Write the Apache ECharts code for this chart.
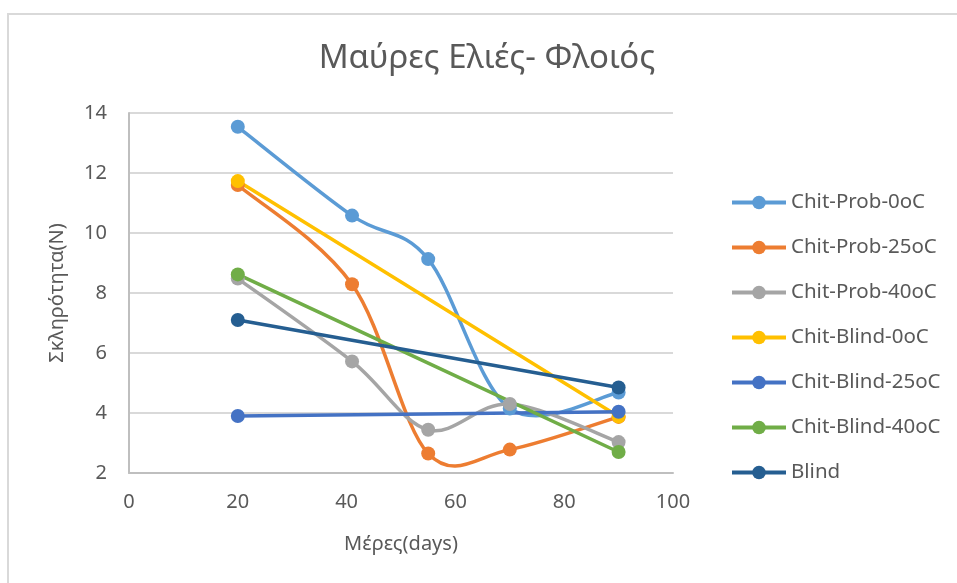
<!DOCTYPE html>
<html>
<head>
<meta charset="utf-8">
<script src="https://cdn.jsdelivr.net/npm/echarts@6/dist/echarts.min.js"></script>
<style>
  html, body { margin: 0; padding: 0; background: #ffffff; }
  #chart { width: 957px; height: 583px; }
</style>
</head>
<body>
<div id="chart"></div>
<script>
// Hardness of black olive skin over storage time
const titleText = 'Μαύρες Ελιές- Φλοιός';
const xAxisName = 'Μέρες(days)';
const yAxisName = 'Σκληρότητα(N)';

const seriesNames = [
  'Chit-Prob-0oC', 'Chit-Prob-25oC', 'Chit-Prob-40oC',
  'Chit-Blind-0oC', 'Chit-Blind-25oC', 'Chit-Blind-40oC', 'Blind'
];
const seriesColors = ['#5B9BD5', '#ED7D31', '#A5A5A5', '#FFC000', '#4472C4', '#70AD47', '#255E91'];

// days of measurement
const daysProb = [20, 41, 55, 70, 90];
const daysBlind = [20, 90];

// hardness values (N)
const chitProb0 = [13.54, 10.58, 9.13, 4.15, 4.68];
const chitProb25 = [11.6, 8.29, 2.65, 2.78, 3.87];
const chitProb40 = [8.48, 5.72, 3.44, 4.3, 3.03];
const chitBlind0 = [11.73, 3.88];
const chitBlind25 = [3.9, 4.04];
const chitBlind40 = [8.62, 2.7];
const blind = [7.1, 4.85];

const xTicks = { min: 0, max: 100, interval: 20 };
const yTicks = { min: 2, max: 14, interval: 2 };

function pairs(xs, ys) {
  return xs.map((x, i) => [x, ys[i]]);
}

const seriesData = [
  pairs(daysProb, chitProb0),
  pairs(daysProb, chitProb25),
  pairs(daysProb, chitProb40),
  pairs(daysBlind, chitBlind0),
  pairs(daysBlind, chitBlind25),
  pairs(daysBlind, chitBlind40),
  pairs(daysBlind, blind)
];

const FONT = '"Noto Sans", "Open Sans", sans-serif';
const TEXT = '#595959';
const LINE_W = 3.5;

// Smoothed connector: Catmull-Rom spline converted to cubic Bezier segments,
// computed in pixel space from the axis-mapped data points.
function curveRenderer(points, color) {
  return function (params, api) {
    const i = params.dataIndex;
    if (i >= points.length - 1) return null;
    const p = points.map(pt => api.coord(pt));
    const p0 = p[Math.max(i - 1, 0)];
    const p1 = p[i];
    const p2 = p[i + 1];
    const p3 = p[Math.min(i + 2, p.length - 1)];
    return {
      type: 'bezierCurve',
      shape: {
        x1: p1[0], y1: p1[1],
        x2: p2[0], y2: p2[1],
        cpx1: p1[0] + (p2[0] - p0[0]) / 6,
        cpy1: p1[1] + (p2[1] - p0[1]) / 6,
        cpx2: p2[0] - (p3[0] - p1[0]) / 6,
        cpy2: p2[1] - (p3[1] - p1[1]) / 6
      },
      style: { stroke: color, lineWidth: LINE_W, fill: null, lineCap: 'round' },
      silent: true
    };
  };
}

const series = [];
seriesNames.forEach((name, i) => {
  series.push({
    id: 'curve-' + i,
    name: name + ' (curve)',
    type: 'custom',
    coordinateSystem: 'cartesian2d',
    data: seriesData[i],
    renderItem: curveRenderer(seriesData[i], seriesColors[i]),
    silent: true
  });
  series.push({
    name: name,
    type: 'line',
    data: seriesData[i],
    symbol: 'circle',
    symbolSize: 14,
    showSymbol: true,
    lineStyle: { color: seriesColors[i], width: 0, opacity: 0 },
    itemStyle: { color: seriesColors[i] }
  });
});

const chart = echarts.init(document.getElementById('chart'), null, { renderer: 'canvas' });

chart.setOption({
  backgroundColor: '#ffffff',
  animation: false,
  title: {
    text: titleText,
    left: 482,
    top: 37,
    textAlign: 'center',
    textStyle: { fontFamily: FONT, fontSize: 33, fontWeight: 'normal', color: TEXT }
  },
  graphic: [{
    type: 'rect',
    shape: { x: 8, y: 14, width: 1000, height: 1000 },
    style: { fill: 'none', stroke: '#d9d9d9', lineWidth: 2 },
    silent: true
  }],
  legend: {
    orient: 'vertical',
    left: 730,
    top: 192,
    padding: 0,
    itemWidth: 54,
    itemHeight: 17,
    itemGap: 24,
    data: seriesNames,
    lineStyle: { width: 4, opacity: 1 },
    textStyle: { fontFamily: FONT, fontSize: 20.5, color: TEXT, lineHeight: 20 }
  },
  grid: { left: 129, top: 113, width: 544, height: 360, containLabel: false },
  xAxis: {
    type: 'value',
    min: xTicks.min, max: xTicks.max, interval: xTicks.interval,
    name: xAxisName,
    nameLocation: 'middle',
    nameGap: 61,
    nameTextStyle: { fontFamily: FONT, fontSize: 20, color: TEXT },
    axisLine: { show: true, lineStyle: { color: '#bfbfbf', width: 2 } },
    axisTick: { show: false },
    splitLine: { show: false },
    axisLabel: { margin: 19, fontFamily: FONT, fontSize: 20, color: TEXT }
  },
  yAxis: {
    type: 'value',
    min: yTicks.min, max: yTicks.max, interval: yTicks.interval,
    name: yAxisName,
    nameLocation: 'middle',
    nameRotate: 90,
    nameGap: 62,
    nameTextStyle: { fontFamily: FONT, fontSize: 20, color: TEXT },
    axisLine: { show: true, lineStyle: { color: '#bfbfbf', width: 2 } },
    axisTick: { show: false },
    splitLine: { show: true, lineStyle: { color: '#d9d9d9', width: 2 } },
    axisLabel: { margin: 22, fontFamily: FONT, fontSize: 20, color: TEXT }
  },
  series: series
});
</script>
</body>
</html>
